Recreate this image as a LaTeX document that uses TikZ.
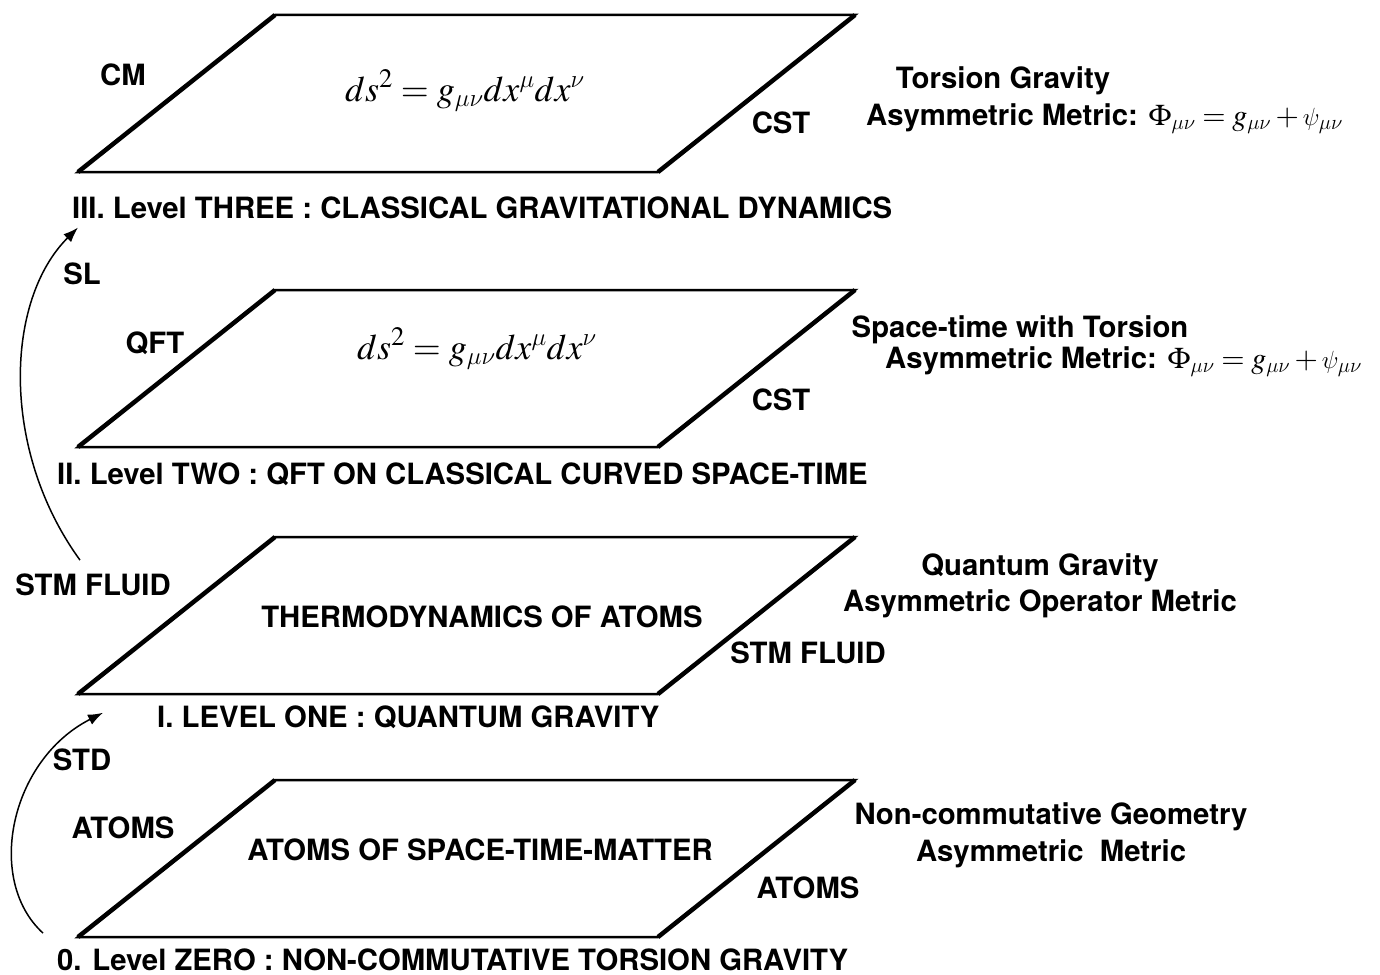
\documentclass[tikz,border=0pt]{standalone}
\usepackage{mathptmx}
\usepackage[no-math]{fontspec}
\setmainfont{TeX Gyre Heros}
\usetikzlibrary{arrows.meta, calc}

% italic Greek indices
\DeclareSymbolFont{greekit}{OML}{cmm}{m}{it}
\DeclareMathSymbol{\mu}{\mathord}{greekit}{"16}
\DeclareMathSymbol{\nu}{\mathord}{greekit}{"17}
\DeclareMathSymbol{\psi}{\mathord}{greekit}{"20}

\newcommand{\lblfont}{\fontsize{29.3}{34}\selectfont\bfseries}
\newcommand{\eqfont}{\fontsize{36}{42}\selectfont}
\newcommand{\symfont}{\fontsize{30}{36}\selectfont}

\begin{document}
\begin{tikzpicture}[x=1pt, y=-1pt,
    lbl/.style={font=\lblfont, inner sep=0pt},
    lbll/.style={lbl, anchor=base west},
    lblc/.style={lbl, anchor=base},
    eqn/.style={font=\eqfont, inner sep=0pt, anchor=base},
    planeedge/.style={line width=2.5pt, line join=miter},
    slantedge/.style={line width=4.5pt},
    evolve/.style={-{Latex[length=15pt,width=11pt]}, line width=1.5pt}]
    \useasboundingbox (0,0) rectangle (1380,974);

    % Level THREE
    \begin{scope}[shift={(0,15)}]
        \draw[planeedge] (275,0) -- (855,0) -- (658,157) -- (78,157) -- cycle;
        \draw[slantedge] (855,0) -- (658,157) (78,157) -- (275,0);
    \end{scope}
    \node[lblc] (cm) at (123,85) {CM};
    \node[eqn] (metricthree) at (465,101) {$ds^2 = g_{\mu\nu}dx^\mu dx^\nu$};
    \node[lblc] (cstthree) at (781,133) {CST};
    \node[lblc] (torsion) at (1003,88) {Torsion Gravity};
    \node[lbll] (asymthree) at (866,125) {Asymmetric Metric: {\symfont$\Phi_{\mu\nu} = g_{\mu\nu} + \psi_{\mu\nu}$}};
    \node[lbll] (lvlthree) at (72,218) {III. Level THREE : CLASSICAL GRAVITATIONAL DYNAMICS};

    % Level TWO
    \begin{scope}[shift={(0,290)}]
        \draw[planeedge] (275,0) -- (855,0) -- (658,157) -- (78,157) -- cycle;
        \draw[slantedge] (855,0) -- (658,157) (78,157) -- (275,0);
    \end{scope}
    \node[lblc] (sl) at (82,284) {SL};
    \node[lblc] (qft) at (155,353) {QFT};
    \node[eqn] (metrictwo) at (477,359) {$ds^2 = g_{\mu\nu}dx^\mu dx^\nu$};
    \node[lblc] (csttwo) at (781,410) {CST};
    \node[lblc] (sptorsion) at (1020,337) {Space-time with Torsion};
    \node[lbll] (asymtwo) at (885,368) {Asymmetric Metric: {\symfont$\Phi_{\mu\nu} = g_{\mu\nu} + \psi_{\mu\nu}$}};
    \node[lbll] (lvltwo) at (57,484) {II. Level TWO : QFT ON CLASSICAL CURVED SPACE-TIME};

    % Level ONE
    \begin{scope}[shift={(0,537)}]
        \draw[planeedge] (275,0) -- (855,0) -- (658,157) -- (78,157) -- cycle;
        \draw[slantedge] (855,0) -- (658,157) (78,157) -- (275,0);
    \end{scope}
    \node[lblc] (stml) at (93,595) {STM FLUID};
    \node[lblc] (thermo) at (482,627) {THERMODYNAMICS OF ATOMS};
    \node[lblc] (stmr) at (808,663) {STM FLUID};
    \node[lblc] (qgrav) at (1040,575) {Quantum Gravity};
    \node[lblc] (asymop) at (1040,611) {Asymmetric Operator Metric};
    \node[lbll] (lvlone) at (157,727) {I. LEVEL ONE : QUANTUM GRAVITY};

    % Level ZERO
    \begin{scope}[shift={(0,780)}]
        \draw[planeedge] (275,0) -- (855,0) -- (658,157) -- (78,157) -- cycle;
        \draw[slantedge] (855,0) -- (658,157) (78,157) -- (275,0);
    \end{scope}
    \node[lblc] (std) at (82,770) {STD};
    \node[lblc] (atomsl) at (123,838) {ATOMS};
    \node[lblc] (stm) at (480,860) {ATOMS OF SPACE-TIME-MATTER};
    \node[lblc] (atomsr) at (808,898) {ATOMS};
    \node[lblc] (ncgeom) at (1051,824) {Non-commutative Geometry};
    \node[lblc] (asymzero) at (1051,861) {Asymmetric~~Metric};
    \node[lbll] (lvlzero) at (57,970) {0. Level ZERO : NON-COMMUTATIVE TORSION GRAVITY};

    % transitions
    \draw[evolve] ($(stml.north)+(-13,-13)$) .. controls (0,450) and (5,300) .. ($(lvlthree.south west)+(6,9)$);
    \draw[evolve] ($(lvlzero.north west)+(-14,-15)$) .. controls (-15,880) and (10,760) .. ($(lvlone.west)+(-54,-4)$);
\end{tikzpicture}
\end{document}
